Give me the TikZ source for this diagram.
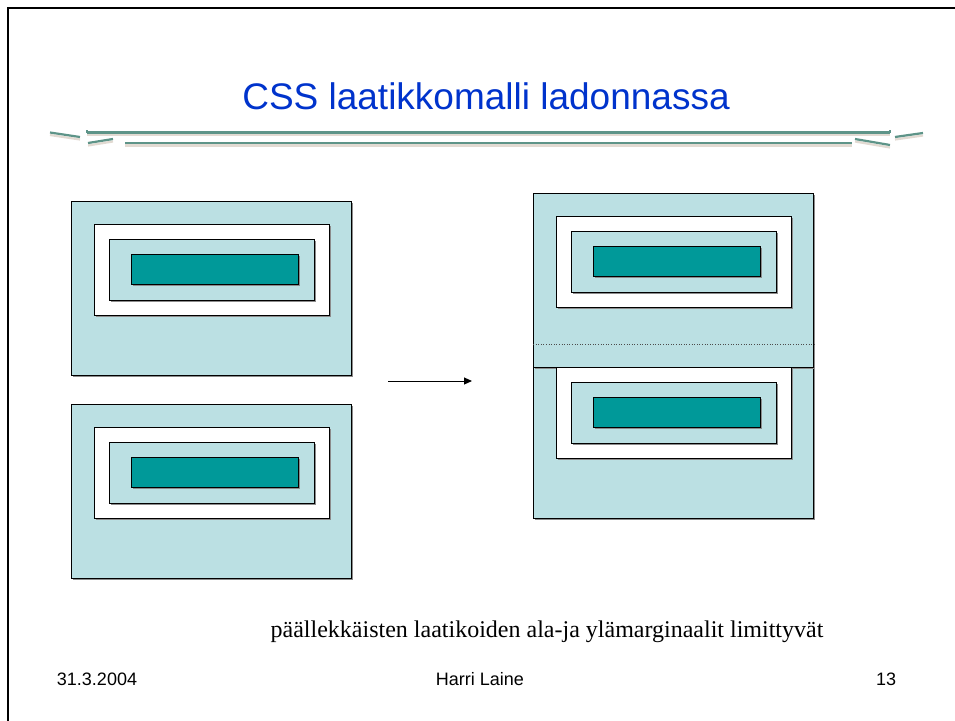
\documentclass[tikz,border=0pt]{standalone}
\usepackage{fontspec}
\setmainfont{Liberation Serif}
\newfontfamily\arialfont{Liberation Sans}
\usetikzlibrary{arrows.meta,shadows}
\definecolor{lightbox}{HTML}{BBE0E3}
\definecolor{tealbox}{HTML}{009999}
\definecolor{titleblue}{HTML}{0033CC}
\definecolor{ornament}{HTML}{5E9488}
\definecolor{ornshadow}{HTML}{E2DAD2}
\tikzset{
  boxshadow/.style={drop shadow={shadow xshift=1.2pt, shadow yshift=-1.2pt, fill=black!45, opacity=1}},
  outerbox/.style={draw=black, fill=lightbox, line width=1pt, inner sep=0pt, anchor=north west, minimum width=280pt, minimum height=174pt, boxshadow},
  whitebox/.style={draw=black, fill=white, line width=1pt, inner sep=0pt, anchor=north west, minimum width=235pt, minimum height=91pt, boxshadow},
  midbox/.style={draw=black, fill=lightbox, line width=0.8pt, inner sep=0pt, anchor=north west, minimum width=205pt, minimum height=61pt, boxshadow},
  contentbox/.style={draw=black, fill=tealbox, line width=1pt, inner sep=0pt, anchor=north west, minimum width=167pt, minimum height=30pt, boxshadow},
  orn/.style={draw=ornament, line width=2.2pt},
  ornsh/.style={draw=ornshadow, line width=2.2pt},
  footer/.style={font=\arialfont\fontsize{18}{20}\selectfont, anchor=base, inner sep=0pt},
}
\newcommand{\boxgroup}[3]{%
  \node[whitebox] (#1w) at (#2+23,#3+23) {};
  \node[midbox] (#1m) at (#2+38,#3+38) {};
  \node[contentbox] (#1c) at (#2+60,#3+53) {};
}
\begin{document}
\begin{tikzpicture}[x=1pt,y=-1pt]
\useasboundingbox (0,0) rectangle (955,720);
% slide frame
\draw[line width=2pt] (8,725) -- (8,8) -- (960,8);
% title
\node[font=\arialfont\fontsize{37}{40}\selectfont, text=titleblue, anchor=base, inner sep=0pt] (title) at (486,109) {CSS laatikkomalli ladonnassa};
% ornament shadows
\draw[ornsh] (87,134.5) -- (890,134.5);
\draw[ornsh] (125,145.5) -- (852,145.5);
\draw[ornsh] (50,135) -- (80,139.5);
\draw[ornsh] (88,145.5) -- (113,141.5);
\draw[ornsh] (855,141.5) -- (890,147.5);
\draw[ornsh] (895,139.5) -- (923,135.5);
% ornament lines
\draw[orn] (87,132.5) -- (890,132.5);
\draw[orn] (125,143) -- (852,143);
\draw[orn] (50,132.5) -- (80,137);
\draw[orn] (88,143) -- (113,139);
\draw[orn] (855,139) -- (890,145);
\draw[orn] (895,137) -- (923,133);
\draw[orn, line width=1.2pt] (87,132.5) -- (87,129.5);
\draw[orn, line width=1.2pt] (890,132.5) -- (890,129.5);
% left: two separate boxes
\node[outerbox] (L1) at (71,201) {};
\boxgroup{L1}{71}{201}
\node[outerbox] (L2) at (71,404) {};
\boxgroup{L2}{71}{404}
% right: collapsed margins
\node[outerbox] (R2) at (533,344) {};
\node[outerbox] (R1) at (533,193) {};
\boxgroup{R1}{533}{193}
\draw[dotted, line width=0.6pt, black!70] (R1.west |- R2.north) -- (R1.east |- R2.north);
\boxgroup{R2}{533}{344}
% arrow
\coordinate (a1) at (388,381);
\coordinate (a2) at (472,381);
\draw[line width=1pt, -{Triangle[length=8pt,width=7pt]}] (a1) -- (a2);
% caption
\node[font=\fontsize{24}{26}\selectfont, anchor=base, inner sep=0pt] (caption) at (547,637) {päällekkäisten laatikoiden ala-ja ylämarginaalit limittyvät};
% footer
\node[footer] (date) at (97,685) {31.3.2004};
\node[footer] (author) at (480,685) {Harri Laine};
\node[footer] (page) at (886,685) {13};
\end{tikzpicture}
\end{document}
